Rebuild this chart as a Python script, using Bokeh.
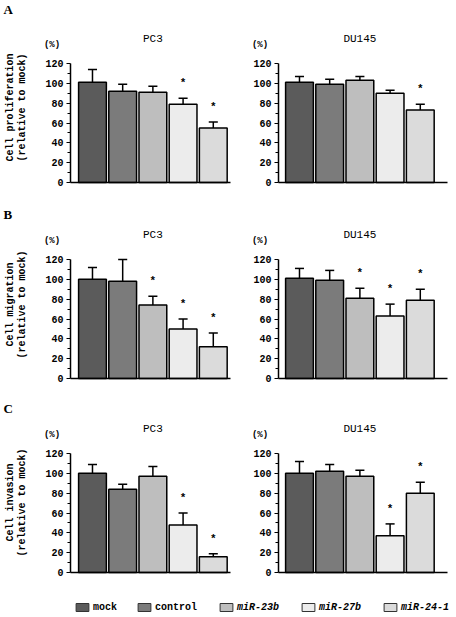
import math
from bokeh.plotting import figure
from bokeh.models import Range1d, FixedTicker, Label, Legend, LegendItem, ColumnDataSource
from bokeh.layouts import column, row
from bokeh.embed import file_html
from bokeh.resources import INLINE
from bokeh.core.properties import value

# ---------------- data ----------------
groups = ["mock", "control", "miR-23b", "miR-27b", "miR-24-1"]
colors = ["#5b5b5b", "#7b7b7b", "#bebebe", "#ececec", "#dbdbdb"]

prolif_pc3 = [101, 92, 91, 79, 55]
prolif_pc3_err = [13, 7, 6, 6, 6]
prolif_pc3_sig = [0, 0, 0, 1, 1]
prolif_du145 = [101, 99, 103, 90, 73]
prolif_du145_err = [6, 5, 4, 3, 6]
prolif_du145_sig = [0, 0, 0, 0, 1]

migr_pc3 = [100, 98, 74, 50, 32]
migr_pc3_err = [12, 22, 9, 10, 14]
migr_pc3_sig = [0, 0, 1, 1, 1]
migr_du145 = [101, 99, 81, 63, 79]
migr_du145_err = [10, 10, 10, 12, 11]
migr_du145_sig = [0, 0, 1, 1, 1]

inv_pc3 = [100, 84, 97, 48, 16]
inv_pc3_err = [9, 5, 10, 12, 3]
inv_pc3_sig = [0, 0, 0, 1, 1]
inv_du145 = [100, 102, 97, 37, 80]
inv_du145_err = [12, 7, 6, 12, 11]
inv_du145_sig = [0, 0, 0, 1, 1]

y_ticks = [0, 20, 40, 60, 80, 100, 120]
y_minor = [10, 30, 50, 70, 90, 110]

FONT = "Liberation Mono"
PX = 30.2          # px per bar slot
UY = 120 / 119     # data units per px (vertical)

def panel(means, errs, sig, title, ylab1, ylab2, letter, side,
          fig_top, fig_bottom, frame_top, frame_bottom, ylab_y, letter_top):
    if side == "left":
        fig_w, axis_px, fw = 232, 70, 160
        x0 = 0.272
    else:
        fig_w, axis_px, fw = 224, 46, 169
        x0 = 0.305
    xs0 = x0 - axis_px / PX
    xe = xs0 + fig_w / PX
    ys0 = -(fig_bottom - frame_bottom) * UY
    ye = 120 + (frame_top - fig_top) * UY
    p = figure(width=fig_w, height=fig_bottom - fig_top, min_border=0,
               x_range=Range1d(xs0, xe), y_range=Range1d(ys0, ye),
               toolbar_location=None, output_backend="svg")
    p.grid.visible = False
    p.outline_line_color = None

    xs = list(range(1, len(means) + 1))
    tops = [m + e for m, e in zip(means, errs)]
    src = ColumnDataSource(dict(x=xs, top=means, err_top=tops, color=colors,
                                cl=[x - 0.15 for x in xs], cr=[x + 0.15 for x in xs]))
    p.segment(x0="x", y0="top", x1="x", y1="err_top", source=src, line_color="black", line_width=1.5)
    p.segment(x0="cl", y0="err_top", x1="cr", y1="err_top", source=src, line_color="black", line_width=1.5)
    p.vbar(x="x", top="top", bottom=0, width=0.92, source=src, fill_color="color",
           line_color="black", line_width=1.5)
    sx = [x for x, s in zip(xs, sig) if s]
    sy = [t + 15 for t, s in zip(tops, sig) if s]
    p.text(x=sx, y=sy, text=["*"] * len(sx), text_font=value(FONT), text_font_size="11px",
           text_font_style="bold", text_align="center", text_baseline="middle", text_color="black")

    # axes at fixed locations inside the frame
    yax = p.yaxis[0]
    yax.fixed_location = x0
    yax.bounds = (0, 120)
    yax.ticker = FixedTicker(ticks=y_ticks, minor_ticks=y_minor)
    yax.axis_line_width = 1.5
    yax.major_tick_out = 4
    yax.major_tick_in = 0
    yax.minor_tick_out = 3
    yax.minor_tick_in = 0
    yax.major_tick_line_width = 1.2
    yax.minor_tick_line_width = 1.2
    yax.major_label_standoff = 3
    yax.major_label_text_font = FONT
    yax.major_label_text_font_size = "10px"
    yax.major_label_text_font_style = "bold"
    yax.major_label_text_color = "black"
    xax = p.xaxis[0]
    xax.fixed_location = 0
    xax.bounds = (x0, x0 + fw / PX)
    xax.ticker = FixedTicker(ticks=[])
    xax.axis_line_width = 1.5
    xax.major_tick_line_color = None
    xax.minor_tick_line_color = None
    xax.major_label_text_font_size = "0px"
    xax.major_label_standoff = 0

    # texts
    p.add_layout(Label(x=3.0, y=(frame_bottom - (frame_top - 25)) * UY, text=title,
                       text_font=FONT, text_font_size="11px", text_align="center",
                       text_baseline="middle", text_color="black"))
    p.add_layout(Label(x=x0 - 18.5 / PX, y=(frame_bottom - (frame_top - 18.5)) * UY, text="(%)",
                       text_font=FONT, text_font_size="9px", text_font_style="bold",
                       text_align="center", text_baseline="middle", text_color="black"))
    if letter:
        p.add_layout(Label(x=xs0 + 3 / PX, y=(frame_bottom - letter_top) * UY, text=letter,
                           text_font="Liberation Serif", text_font_size="13px",
                           text_font_style="bold", text_align="left", text_baseline="top",
                           text_color="black"))
        p.add_layout(Label(x=xs0 + 10 / PX, y=(frame_bottom - ylab_y) * UY, text=ylab1,
                           angle=math.pi / 2, text_font=FONT, text_font_size="10px",
                           text_font_style="bold", text_align="center", text_baseline="middle",
                           text_color="black"))
        p.add_layout(Label(x=xs0 + 22 / PX, y=(frame_bottom - ylab_y) * UY, text=ylab2,
                           angle=math.pi / 2, text_font=FONT, text_font_size="10px",
                           text_font_style="bold", text_align="center", text_baseline="middle",
                           text_color="black"))
    return p

# rows: fig_top, fig_bottom, frame_top(120), frame_bottom(0), y-label centre, letter top (page px)
RA = (0, 190, 63, 182, 107, 1)
RB = (190, 387, 259, 378, 304, 206)
RC = (387, 585, 453, 572, 502, 400)

a1 = panel(prolif_pc3, prolif_pc3_err, prolif_pc3_sig, "PC3", "Cell proliferation", "(relative to mock)", "A", "left", *RA)
a2 = panel(prolif_du145, prolif_du145_err, prolif_du145_sig, "DU145", "", "", "", "right", *RA)
b1 = panel(migr_pc3, migr_pc3_err, migr_pc3_sig, "PC3", "Cell migration", "(relative to mock)", "B", "left", *RB)
b2 = panel(migr_du145, migr_du145_err, migr_du145_sig, "DU145", "", "", "", "right", *RB)
c1 = panel(inv_pc3, inv_pc3_err, inv_pc3_sig, "PC3", "Cell invasion", "(relative to mock)", "C", "left", *RC)
c2 = panel(inv_du145, inv_du145_err, inv_du145_sig, "DU145", "", "", "", "right", *RC)

# legend strip
lg = figure(width=456, height=32, x_range=Range1d(0, 1), y_range=Range1d(0, 1),
            x_axis_location=None, y_axis_location=None, toolbar_location=None,
            min_border=0, output_backend="svg")
lg.grid.visible = False
lg.outline_line_color = None
rends = []
for c in colors:
    rends.append(lg.vbar(x=[float("nan")], top=[float("nan")], width=0.1, fill_color=c,
                         line_color="#333333", line_width=1))

def mk_legend(idx, loc, style, spacing):
    leg = Legend(items=[LegendItem(label=groups[i], renderers=[rends[i]]) for i in idx],
                 location=loc, orientation="horizontal", glyph_width=16, glyph_height=10,
                 label_standoff=3, spacing=spacing, padding=0, margin=0, border_line_color=None,
                 background_fill_alpha=0, label_text_font=FONT, label_text_font_size="10px",
                 label_text_font_style=style, label_height=12, label_text_color="black")
    lg.add_layout(leg)

mk_legend([0, 1], (74, 4), "bold", 19)
mk_legend([2, 3, 4], (218, 4), "bold italic", 21)

layout = column(row(a1, a2), row(b1, b2), row(c1, c2), lg)
open("out.html", "w").write(file_html(layout, INLINE))
